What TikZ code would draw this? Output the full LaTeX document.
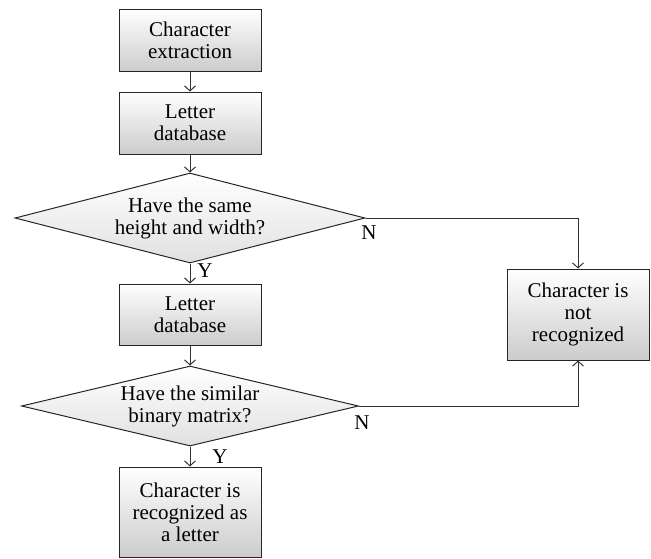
\documentclass[tikz,border=0pt]{standalone}
\usepackage{fontspec}
\setmainfont{Liberation Serif}
\newfontfamily\labelserif{Liberation Serif}
\usetikzlibrary{shapes.geometric,arrows.meta}
\begin{document}
\begin{tikzpicture}[x=1pt,y=-1pt,
  every node/.style={font=\labelserif\fontsize{21}{22}\selectfont},
  procbox/.style={draw=black!85, line width=1pt, rectangle, align=center,
    minimum width=142pt, inner sep=0pt, top color=white, bottom color=black!20},
  decbox/.style={draw=black!85, line width=1pt, diamond, align=center, inner sep=0pt,
    top color=white, bottom color=black!12},
  conn/.style={draw=black!80, line width=1pt, -{Straight Barb[length=5pt,width=11pt]}},
  lbl/.style={inner sep=0pt}]
\useasboundingbox (0,0) rectangle (651,558);
\node[procbox, minimum height=62pt] (b1) at (190,40) {Character\\extraction};
\node[procbox, minimum height=62pt] (b2) at (190,123) {Letter\\database};
\node[decbox, minimum width=350pt, minimum height=90pt, shape aspect=3.9] (d1) at (190,218) {Have the same\\height and width?};
\node[procbox, minimum height=61pt] (b3) at (190,314.5) {Letter\\database};
\node[decbox, minimum width=337pt, minimum height=80pt, shape aspect=4.2] (d2) at (190,406) {Have the similar\\binary matrix?};
\node[procbox, minimum height=90pt] (b4) at (190,512) {Character is\\recognized as\\a letter};
\node[procbox, minimum height=91pt] (r) at (578,314.5) {Character is\\not\\recognized};
\draw[conn] (b1) -- (b2);
\draw[conn] (b2) -- (d1);
\draw[conn] (d1) -- (b3);
\draw[conn] (b3) -- (d2);
\draw[conn] (d2) -- (b4);
\draw[conn] (d1.east) -| (r.north);
\draw[conn] (d2.east) -| (r.south);
\node[lbl] (y1) at (205,271) {Y};
\node[lbl] (n1) at (369,233) {N};
\node[lbl] (y2) at (220,457) {Y};
\node[lbl] (n2) at (362,423) {N};
\end{tikzpicture}
\end{document}
